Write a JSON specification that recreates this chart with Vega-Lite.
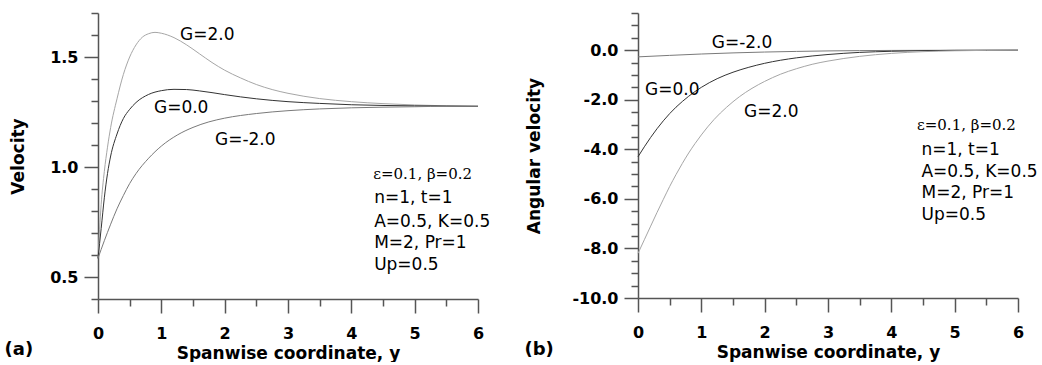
{
  "$schema": "https://vega.github.io/schema/vega-lite/v6.json",
  "background": "white",
  "padding": {"left": 4, "top": 12, "right": 0, "bottom": 0},
  "spacing": 33,
  "config": {
    "view": {"stroke": null},
    "axis": {"grid": false, "domainColor": "#555555", "domainWidth": 1.5, "tickColor": "#555555", "tickWidth": 1.5,
      "labelFont": "DejaVu Sans", "labelFontWeight": "bold", "labelFontSize": 16, "labelColor": "black",
      "titleFont": "DejaVu Sans", "titleFontWeight": "bold", "titleFontSize": 17, "titleColor": "black"}
  },
  "datasets": {
    "vel": [
      {"s":0,"val":0.585,"G":"G=2.0"},{"s":0.05,"val":0.83,"G":"G=2.0"},{"s":0.1,"val":0.98,"G":"G=2.0"},{"s":0.15,"val":1.09,"G":"G=2.0"},{"s":0.2,"val":1.18,"G":"G=2.0"},{"s":0.3,"val":1.31,"G":"G=2.0"},{"s":0.4,"val":1.42,"G":"G=2.0"},{"s":0.5,"val":1.5,"G":"G=2.0"},{"s":0.6,"val":1.555,"G":"G=2.0"},{"s":0.7,"val":1.59,"G":"G=2.0"},{"s":0.8,"val":1.606,"G":"G=2.0"},{"s":0.9,"val":1.612,"G":"G=2.0"},{"s":1.0,"val":1.608,"G":"G=2.0"},{"s":1.2,"val":1.588,"G":"G=2.0"},{"s":1.4,"val":1.555,"G":"G=2.0"},{"s":1.6,"val":1.515,"G":"G=2.0"},{"s":1.8,"val":1.475,"G":"G=2.0"},{"s":2.0,"val":1.44,"G":"G=2.0"},{"s":2.25,"val":1.405,"G":"G=2.0"},{"s":2.5,"val":1.375,"G":"G=2.0"},{"s":2.75,"val":1.352,"G":"G=2.0"},{"s":3.0,"val":1.335,"G":"G=2.0"},{"s":3.5,"val":1.311,"G":"G=2.0"},{"s":4.0,"val":1.297,"G":"G=2.0"},{"s":4.5,"val":1.288,"G":"G=2.0"},{"s":5.0,"val":1.282,"G":"G=2.0"},{"s":5.5,"val":1.278,"G":"G=2.0"},{"s":6.0,"val":1.276,"G":"G=2.0"},
      {"s":0,"val":0.585,"G":"G=0.0"},{"s":0.05,"val":0.72,"G":"G=0.0"},{"s":0.1,"val":0.86,"G":"G=0.0"},{"s":0.15,"val":0.97,"G":"G=0.0"},{"s":0.2,"val":1.05,"G":"G=0.0"},{"s":0.3,"val":1.15,"G":"G=0.0"},{"s":0.4,"val":1.22,"G":"G=0.0"},{"s":0.5,"val":1.262,"G":"G=0.0"},{"s":0.6,"val":1.293,"G":"G=0.0"},{"s":0.8,"val":1.33,"G":"G=0.0"},{"s":1.0,"val":1.347,"G":"G=0.0"},{"s":1.2,"val":1.353,"G":"G=0.0"},{"s":1.4,"val":1.352,"G":"G=0.0"},{"s":1.6,"val":1.346,"G":"G=0.0"},{"s":1.8,"val":1.338,"G":"G=0.0"},{"s":2.0,"val":1.329,"G":"G=0.0"},{"s":2.5,"val":1.31,"G":"G=0.0"},{"s":3.0,"val":1.297,"G":"G=0.0"},{"s":3.5,"val":1.289,"G":"G=0.0"},{"s":4.0,"val":1.283,"G":"G=0.0"},{"s":5.0,"val":1.278,"G":"G=0.0"},{"s":6.0,"val":1.276,"G":"G=0.0"},
      {"s":0,"val":0.585,"G":"G=-2.0"},{"s":0.1,"val":0.665,"G":"G=-2.0"},{"s":0.2,"val":0.74,"G":"G=-2.0"},{"s":0.3,"val":0.81,"G":"G=-2.0"},{"s":0.4,"val":0.87,"G":"G=-2.0"},{"s":0.5,"val":0.925,"G":"G=-2.0"},{"s":0.6,"val":0.97,"G":"G=-2.0"},{"s":0.8,"val":1.04,"G":"G=-2.0"},{"s":1.0,"val":1.095,"G":"G=-2.0"},{"s":1.25,"val":1.145,"G":"G=-2.0"},{"s":1.5,"val":1.18,"G":"G=-2.0"},{"s":1.75,"val":1.205,"G":"G=-2.0"},{"s":2.0,"val":1.222,"G":"G=-2.0"},{"s":2.5,"val":1.243,"G":"G=-2.0"},{"s":3.0,"val":1.256,"G":"G=-2.0"},{"s":3.5,"val":1.264,"G":"G=-2.0"},{"s":4.0,"val":1.269,"G":"G=-2.0"},{"s":4.5,"val":1.272,"G":"G=-2.0"},{"s":5.0,"val":1.274,"G":"G=-2.0"},{"s":5.5,"val":1.276,"G":"G=-2.0"},{"s":6.0,"val":1.276,"G":"G=-2.0"}
    ],
    "ang": [
      {"s":0,"val":-0.27,"G":"G=-2.0"},{"s":0.5,"val":-0.21,"G":"G=-2.0"},{"s":1.0,"val":-0.155,"G":"G=-2.0"},{"s":1.5,"val":-0.11,"G":"G=-2.0"},{"s":2.0,"val":-0.075,"G":"G=-2.0"},{"s":2.5,"val":-0.05,"G":"G=-2.0"},{"s":3.0,"val":-0.03,"G":"G=-2.0"},{"s":3.5,"val":-0.018,"G":"G=-2.0"},{"s":4.0,"val":-0.01,"G":"G=-2.0"},{"s":5.0,"val":-0.003,"G":"G=-2.0"},{"s":6.0,"val":0,"G":"G=-2.0"},
      {"s":0,"val":-4.3,"G":"G=0.0"},{"s":0.1,"val":-3.9,"G":"G=0.0"},{"s":0.2,"val":-3.52,"G":"G=0.0"},{"s":0.3,"val":-3.17,"G":"G=0.0"},{"s":0.4,"val":-2.85,"G":"G=0.0"},{"s":0.5,"val":-2.56,"G":"G=0.0"},{"s":0.6,"val":-2.3,"G":"G=0.0"},{"s":0.7,"val":-2.07,"G":"G=0.0"},{"s":0.8,"val":-1.86,"G":"G=0.0"},{"s":0.9,"val":-1.67,"G":"G=0.0"},{"s":1.0,"val":-1.5,"G":"G=0.0"},{"s":1.25,"val":-1.15,"G":"G=0.0"},{"s":1.5,"val":-0.89,"G":"G=0.0"},{"s":1.75,"val":-0.69,"G":"G=0.0"},{"s":2.0,"val":-0.53,"G":"G=0.0"},{"s":2.5,"val":-0.31,"G":"G=0.0"},{"s":3.0,"val":-0.175,"G":"G=0.0"},{"s":3.5,"val":-0.09,"G":"G=0.0"},{"s":4.0,"val":-0.045,"G":"G=0.0"},{"s":4.5,"val":-0.02,"G":"G=0.0"},{"s":5.0,"val":-0.008,"G":"G=0.0"},{"s":6.0,"val":0,"G":"G=0.0"},
      {"s":0,"val":-8.2,"G":"G=2.0"},{"s":0.1,"val":-7.65,"G":"G=2.0"},{"s":0.2,"val":-7.1,"G":"G=2.0"},{"s":0.3,"val":-6.55,"G":"G=2.0"},{"s":0.4,"val":-6.02,"G":"G=2.0"},{"s":0.5,"val":-5.5,"G":"G=2.0"},{"s":0.6,"val":-5.02,"G":"G=2.0"},{"s":0.7,"val":-4.57,"G":"G=2.0"},{"s":0.8,"val":-4.15,"G":"G=2.0"},{"s":0.9,"val":-3.77,"G":"G=2.0"},{"s":1.0,"val":-3.42,"G":"G=2.0"},{"s":1.2,"val":-2.8,"G":"G=2.0"},{"s":1.4,"val":-2.3,"G":"G=2.0"},{"s":1.6,"val":-1.88,"G":"G=2.0"},{"s":1.8,"val":-1.54,"G":"G=2.0"},{"s":2.0,"val":-1.26,"G":"G=2.0"},{"s":2.25,"val":-0.97,"G":"G=2.0"},{"s":2.5,"val":-0.75,"G":"G=2.0"},{"s":2.75,"val":-0.57,"G":"G=2.0"},{"s":3.0,"val":-0.44,"G":"G=2.0"},{"s":3.5,"val":-0.25,"G":"G=2.0"},{"s":4.0,"val":-0.13,"G":"G=2.0"},{"s":4.5,"val":-0.06,"G":"G=2.0"},{"s":5.0,"val":-0.025,"G":"G=2.0"},{"s":5.5,"val":-0.008,"G":"G=2.0"},{"s":6.0,"val":0,"G":"G=2.0"}
    ],
    "velLabels": [
      {"s":1.295,"val":1.577,"label":"G=2.0"},{"s":0.884,"val":1.244,"label":"G=0.0"},{"s":1.847,"val":1.1,"label":"G=-2.0"},
      {"s":4.36,"val":0.8364,"label":"n=1, t=1"},{"s":4.36,"val":0.7273,"label":"A=0.5, K=0.5"},{"s":4.36,"val":0.6318,"label":"M=2, Pr=1"},{"s":4.36,"val":0.5318,"label":"Up=0.5"}
    ],
    "velEps": [{"s":4.345,"val":0.9455,"label":"ε=0.1, β=0.2"}],
    "velTag": [{"s":-1.476,"val":0.1455,"label":"(a)"}],
    "angLabels": [
      {"s":1.164,"val":0.077,"label":"G=-2.0"},{"s":0.111,"val":-1.806,"label":"G=0.0"},{"s":1.674,"val":-2.68,"label":"G=2.0"},
      {"s":4.476,"val":-4.226,"label":"n=1, t=1"},{"s":4.476,"val":-5.113,"label":"A=0.5, K=0.5"},{"s":4.476,"val":-5.96,"label":"M=2, Pr=1"},{"s":4.476,"val":-6.847,"label":"Up=0.5"}
    ],
    "angEps": [{"s":4.405,"val":-3.218,"label":"ε=0.1, β=0.2"}],
    "angTag": [{"s":-1.792,"val":-12.29,"label":"(b)"}]
  },
  "hconcat": [
    {
      "width": 380, "height": 286,
      "layer": [
        {
          "data": {"name": "vel"},
          "mark": {"type": "line", "strokeWidth": 1, "interpolate": "monotone"},
          "encoding": {
            "x": {"field": "s", "type": "quantitative", "scale": {"domain": [0, 6], "nice": false, "zero": false},
              "axis": {"orient": "bottom", "values": [0,1,2,3,4,5,6], "format": "d", "tickSize": 14, "labelPadding": 12, "labelFlush": false, "title": "Spanwise coordinate, y", "titlePadding": 4.5}},
            "y": {"field": "val", "type": "quantitative", "scale": {"domain": [0.4, 1.7], "nice": false, "zero": false},
              "axis": {"orient": "left", "values": [0.5, 1.0, 1.5], "format": ".1f", "tickSize": 14, "labelPadding": 6, "title": "Velocity", "titlePadding": 22.5}},
            "color": {"field": "G", "type": "nominal", "scale": {"domain": ["G=2.0", "G=0.0", "G=-2.0"], "range": ["#a6a6a6", "#333333", "#7a7a7a"]}, "legend": null}
          }
        },
        {
          "data": {"name": "velLabels"},
          "mark": {"type": "text", "align": "left", "baseline": "alphabetic", "font": "DejaVu Sans", "fontSize": 17, "color": "black"},
          "encoding": {
            "x": {"field": "s", "type": "quantitative", "scale": {"domain": [0, 6], "nice": false, "zero": false},
              "axis": {"orient": "bottom", "values": [0.5,1.5,2.5,3.5,4.5,5.5], "labels": false, "domain": false, "tickSize": 7, "title": null}},
            "y": {"field": "val", "type": "quantitative", "scale": {"domain": [0.4, 1.7], "nice": false, "zero": false},
              "axis": {"orient": "left", "values": [0.4,0.6,0.7,0.8,0.9,1.1,1.2,1.3,1.4,1.6,1.7], "labels": false, "domain": false, "tickSize": 7, "title": null}},
            "text": {"field": "label", "type": "nominal"}
          }
        },
        {
          "data": {"name": "velEps"},
          "mark": {"type": "text", "align": "left", "baseline": "alphabetic", "font": "DejaVu Serif", "fontSize": 15, "color": "black"},
          "encoding": {
            "x": {"field": "s", "type": "quantitative", "scale": {"domain": [0, 6], "nice": false, "zero": false}, "axis": null},
            "y": {"field": "val", "type": "quantitative", "scale": {"domain": [0.4, 1.7], "nice": false, "zero": false}, "axis": null},
            "text": {"field": "label", "type": "nominal"}
          }
        },
        {
          "data": {"name": "velTag"},
          "mark": {"type": "text", "align": "left", "baseline": "alphabetic", "font": "DejaVu Sans", "fontWeight": "bold", "fontSize": 18, "color": "black"},
          "encoding": {
            "x": {"field": "s", "type": "quantitative", "scale": {"domain": [0, 6], "nice": false, "zero": false}, "axis": null},
            "y": {"field": "val", "type": "quantitative", "scale": {"domain": [0.4, 1.7], "nice": false, "zero": false}, "axis": null},
            "text": {"field": "label", "type": "nominal"}
          }
        }
      ],
      "resolve": {"axis": {"x": "independent", "y": "independent"}}
    },
    {
      "width": 380, "height": 285,
      "layer": [
        {
          "data": {"name": "ang"},
          "mark": {"type": "line", "strokeWidth": 1, "interpolate": "monotone"},
          "encoding": {
            "x": {"field": "s", "type": "quantitative", "scale": {"domain": [0, 6], "nice": false, "zero": false},
              "axis": {"orient": "bottom", "values": [0,1,2,3,4,5,6], "format": "d", "tickSize": 14, "labelPadding": 12, "labelFlush": false, "title": "Spanwise coordinate, y", "titlePadding": 4.5}},
            "y": {"field": "val", "type": "quantitative", "scale": {"domain": [-10, 1.5], "nice": false, "zero": false},
              "axis": {"orient": "left", "values": [-10,-8,-6,-4,-2,0], "labelExpr": "replace(format(datum.value, '.1f'), '\u2212', '-')", "tickSize": 14, "labelPadding": 6, "title": "Angular velocity", "titlePadding": 28}},
            "color": {"field": "G", "type": "nominal", "scale": {"domain": ["G=2.0", "G=0.0", "G=-2.0"], "range": ["#a6a6a6", "#333333", "#7a7a7a"]}, "legend": null}
          }
        },
        {
          "data": {"name": "angLabels"},
          "mark": {"type": "text", "align": "left", "baseline": "alphabetic", "font": "DejaVu Sans", "fontSize": 17, "color": "black"},
          "encoding": {
            "x": {"field": "s", "type": "quantitative", "scale": {"domain": [0, 6], "nice": false, "zero": false},
              "axis": {"orient": "bottom", "values": [0.5,1.5,2.5,3.5,4.5,5.5], "labels": false, "domain": false, "tickSize": 7, "title": null}},
            "y": {"field": "val", "type": "quantitative", "scale": {"domain": [-10, 1.5], "nice": false, "zero": false},
              "axis": {"orient": "left", "values": [-9.5,-9,-8.5,-7.5,-7,-6.5,-5.5,-5,-4.5,-3.5,-3,-2.5,-1.5,-1,-0.5,0.5,1,1.5], "labels": false, "domain": false, "tickSize": 7, "title": null}},
            "text": {"field": "label", "type": "nominal"}
          }
        },
        {
          "data": {"name": "angEps"},
          "mark": {"type": "text", "align": "left", "baseline": "alphabetic", "font": "DejaVu Serif", "fontSize": 15, "color": "black"},
          "encoding": {
            "x": {"field": "s", "type": "quantitative", "scale": {"domain": [0, 6], "nice": false, "zero": false}, "axis": null},
            "y": {"field": "val", "type": "quantitative", "scale": {"domain": [-10, 1.5], "nice": false, "zero": false}, "axis": null},
            "text": {"field": "label", "type": "nominal"}
          }
        },
        {
          "data": {"name": "angTag"},
          "mark": {"type": "text", "align": "left", "baseline": "alphabetic", "font": "DejaVu Sans", "fontWeight": "bold", "fontSize": 18, "color": "black"},
          "encoding": {
            "x": {"field": "s", "type": "quantitative", "scale": {"domain": [0, 6], "nice": false, "zero": false}, "axis": null},
            "y": {"field": "val", "type": "quantitative", "scale": {"domain": [-10, 1.5], "nice": false, "zero": false}, "axis": null},
            "text": {"field": "label", "type": "nominal"}
          }
        }
      ],
      "resolve": {"axis": {"x": "independent", "y": "independent"}}
    }
  ]
}
